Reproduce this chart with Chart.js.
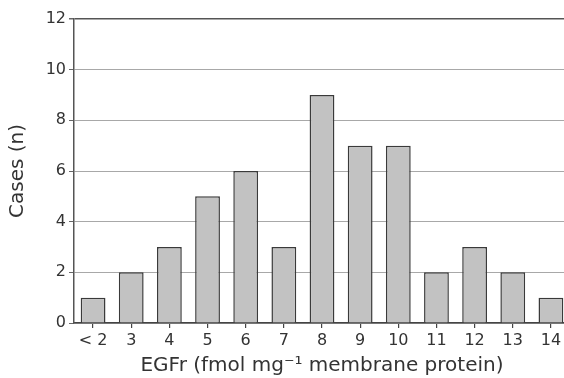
<!DOCTYPE html>
<html>
<head>
<meta charset="utf-8">
<script src="https://cdn.jsdelivr.net/npm/chart.js@4/dist/chart.umd.min.js"></script>
<style>
html,body{margin:0;padding:0;background:#fff;overflow:hidden;width:564px;height:378px;}
#wrap{position:absolute;left:0;top:0;width:572px;height:378px;}
</style>
</head>
<body>
<div id="wrap"><canvas id="c" width="572" height="378"></canvas></div>
<script>
const categories = ['< 2','3','4','5','6','7','8','9','10','11','12','13','14'];
const cases = [1,2,3,5,6,3,9,7,7,2,3,2,1];
const yTicks = [0,2,4,6,8,10,12];
const xTitle = 'EGFr (fmol mg\u207B\u00B9 membrane protein)';
const yTitle = 'Cases (n)';

const FONT = 'DejaVu Sans, Verdana, sans-serif';
new Chart(document.getElementById('c'), {
  type: 'bar',
  data: {
    labels: categories,
    datasets: [{
      data: cases,
      backgroundColor: '#c2c2c2',
      borderColor: '#3a3a3a',
      borderWidth: 1.5,
      barPercentage: 0.65,
      categoryPercentage: 1.0
    }]
  },
  options: {
    responsive: false,
    animation: false,
    devicePixelRatio: 1,
    layout: { padding: { left: 0, right: 2, top: 19, bottom: 0 } },
    plugins: { legend: { display: false }, tooltip: { enabled: false } },
    scales: {
      x: {
        offset: true,
        grid: { display: true, offset: false, drawOnChartArea: false, drawTicks: true, tickLength: 5, color: '#444', lineWidth: 1.2 },
        border: { display: true, color: '#444', width: 1.5 },
        ticks: { color: '#333', font: { family: FONT, size: 16 }, padding: 3, maxRotation: 0, autoSkip: false },
        title: { display: true, text: xTitle, color: '#333', font: { family: FONT, size: 20 }, padding: { top: 0, bottom: 0 } },
        afterFit: (s) => { s.height = 55; }
      },
      y: {
        min: 0, max: 12,
        afterBuildTicks: (s) => { s.ticks = yTicks.map(v => ({ value: v })); },
        grid: {
          drawTicks: true,
          tickLength: 5,
          tickColor: '#666',
          color: (ctx) => ctx.tick && ctx.tick.value === 12 ? '#555' : '#a8a8a8',
          lineWidth: (ctx) => ctx.tick && ctx.tick.value === 12 ? 1.5 : 1
        },
        border: { display: true, color: '#555', width: 1.5 },
        ticks: { color: '#333', font: { family: FONT, size: 16 }, padding: 3 },
        title: { display: true, text: yTitle, color: '#333', font: { family: FONT, size: 20 }, padding: { top: 6, bottom: 0 } },
        afterFit: (s) => { s.width = 74; }
      }
    }
  }
});
</script>
</body>
</html>
